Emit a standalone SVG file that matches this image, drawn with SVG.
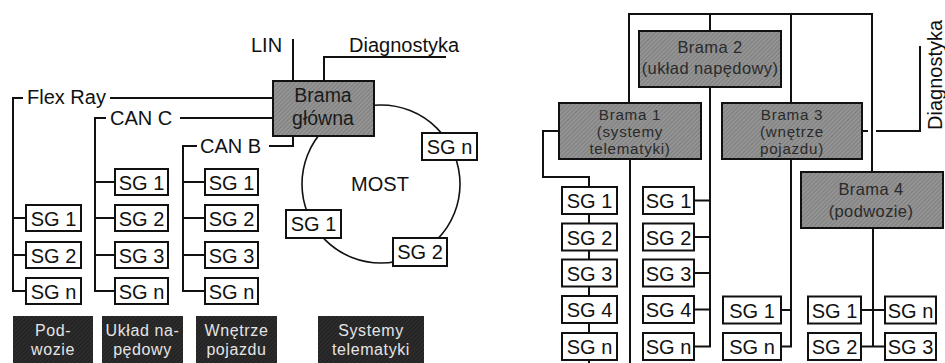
<svg xmlns="http://www.w3.org/2000/svg" width="945" height="363" viewBox="0 0 945 363">
<style>
text{font-family:"Liberation Sans",Arial,sans-serif;}
.ln{fill:none;stroke:#111;stroke-width:2;}
.ring{fill:none;stroke:#111;stroke-width:1.6;}
.sg{fill:#fff;stroke:#111;stroke-width:2;}
.sgt{font-size:20px;fill:#111;text-anchor:middle;}
.bus{font-size:20px;fill:#111;}
.gw{fill:url(#hatch);stroke:#111;stroke-width:2;}
.gwt{font-size:15.2px;letter-spacing:0.7px;fill:#2a2a2a;text-anchor:middle;}
.gw2{font-size:16.5px;letter-spacing:0.4px;fill:#2a2a2a;text-anchor:middle;}
.gwm{font-size:19.5px;fill:#1a1a1a;text-anchor:middle;}
.dk{fill:url(#dhatch);stroke:none;}
.dkt{font-size:16px;letter-spacing:0.6px;fill:#e4e4e4;text-anchor:middle;}
</style>
<defs>
<pattern id="hatch" patternUnits="userSpaceOnUse" width="3" height="3" patternTransform="rotate(45)">
<rect width="3" height="3" fill="#949494"/>
<line x1="0" y1="0" x2="0" y2="3" stroke="#686868" stroke-width="1"/>
</pattern>
<pattern id="dhatch" patternUnits="userSpaceOnUse" width="3" height="3" patternTransform="rotate(45)">
<rect width="3" height="3" fill="#2c2c2c"/>
<line x1="0" y1="0" x2="0" y2="3" stroke="#141414" stroke-width="1"/>
</pattern>
</defs>
<rect width="945" height="363" fill="#fff"/>

<g id="connectors">
<path class="ln" d="M23 98 H13 V291 H26 M13 218 H26 M13 255 H26"/>
<path class="ln" d="M110 98 H273"/>
<path class="ln" d="M106 118 H95 V291 H115 M95 182 H115 M95 218 H115 M95 255 H115"/>
<path class="ln" d="M180 118 H273"/>
<path class="ln" d="M197 146 H183 V291 H205 M183 182 H205 M183 218 H205 M183 255 H205"/>
<path class="ln" d="M269 146 H293 V136"/>
<path class="ln" d="M293 39 V81"/>
<path class="ln" d="M324 81 V57 H446"/>
<circle class="ring" cx="381" cy="184" r="79"/>
<path class="ln" d="M629 103 V14 H872 V172 M710 14 V31 M791 14 V103"/>
<path class="ln" d="M559 131 H543 V177 H589 V363"/>
<path class="ln" d="M630 159 V363"/>
<path class="ln" d="M710 87 V346.5 H694 M694 200.5 H710 M694 237 H710 M694 273 H710 M694 309.5 H710"/>
<path class="ln" d="M791 159 V346.5 H781 M781 310 H791"/>
<path class="ln" d="M873 228 V346.5 M861 310 H885 M861 346.5 H885"/>
<path class="ln" d="M862 131 H868 M876 131 H920 V46"/>
</g>

<g id="flex-ray-label"><text class="bus" x="27" y="104">Flex Ray</text></g>
<g id="can-c-label"><text class="bus" x="110" y="125">CAN C</text></g>
<g id="can-b-label"><text class="bus" x="200" y="153">CAN B</text></g>
<g id="lin-label"><text class="bus" x="251" y="52">LIN</text></g>
<g id="diag-label"><text class="bus" x="349" y="52">Diagnostyka</text></g>
<g id="most-label"><text class="bus" x="380" y="191" text-anchor="middle">MOST</text></g>
<g id="diag-label-2"><text class="bus" transform="translate(942,130) rotate(-90)">Diagnostyka</text></g>

<g id="brama-glowna">
<rect class="gw" x="273" y="81" width="101" height="55"/>
<text class="gwm" x="323" y="102">Brama</text>
<text class="gwm" x="323" y="125">główna</text>
</g>

<g id="fr-sg1"><rect class="sg" x="26" y="205" width="55" height="26"/><text class="sgt" x="53.5" y="226">SG 1</text></g>
<g id="fr-sg2"><rect class="sg" x="26" y="242" width="55" height="26"/><text class="sgt" x="53.5" y="263">SG 2</text></g>
<g id="fr-sgn"><rect class="sg" x="26" y="278" width="55" height="26"/><text class="sgt" x="53.5" y="299">SG n</text></g>

<g id="cc-sg1"><rect class="sg" x="115" y="169" width="53" height="26"/><text class="sgt" x="141.5" y="190">SG 1</text></g>
<g id="cc-sg2"><rect class="sg" x="115" y="205" width="53" height="26"/><text class="sgt" x="141.5" y="226">SG 2</text></g>
<g id="cc-sg3"><rect class="sg" x="115" y="242" width="53" height="26"/><text class="sgt" x="141.5" y="263">SG 3</text></g>
<g id="cc-sgn"><rect class="sg" x="115" y="278" width="53" height="26"/><text class="sgt" x="141.5" y="299">SG n</text></g>

<g id="cb-sg1"><rect class="sg" x="205" y="169" width="53" height="26"/><text class="sgt" x="231.5" y="190">SG 1</text></g>
<g id="cb-sg2"><rect class="sg" x="205" y="205" width="53" height="26"/><text class="sgt" x="231.5" y="226">SG 2</text></g>
<g id="cb-sg3"><rect class="sg" x="205" y="242" width="53" height="26"/><text class="sgt" x="231.5" y="263">SG 3</text></g>
<g id="cb-sgn"><rect class="sg" x="205" y="278" width="53" height="26"/><text class="sgt" x="231.5" y="299">SG n</text></g>

<g id="most-sgn"><rect class="sg" x="422" y="133" width="55" height="27"/><text class="sgt" x="449.5" y="154">SG n</text></g>
<g id="most-sg1"><rect class="sg" x="286" y="210" width="55" height="28"/><text class="sgt" x="313.5" y="231">SG 1</text></g>
<g id="most-sg2"><rect class="sg" x="393" y="238" width="54" height="28"/><text class="sgt" x="420" y="259">SG 2</text></g>

<g id="lbl-podwozie"><rect class="dk" x="13" y="316" width="80" height="54"/><text class="dkt" x="53" y="336">Pod-</text><text class="dkt" x="53" y="355">wozie</text></g>
<g id="lbl-naped"><rect class="dk" x="102" y="316" width="81" height="54"/><text class="dkt" x="142.5" y="336">Układ na-</text><text class="dkt" x="142.5" y="355">pędowy</text></g>
<g id="lbl-wnetrze"><rect class="dk" x="196" y="316" width="81" height="54"/><text class="dkt" x="236.5" y="336">Wnętrze</text><text class="dkt" x="236.5" y="355">pojazdu</text></g>
<g id="lbl-telematyka"><rect class="dk" x="318" y="316" width="106" height="54"/><text class="dkt" x="371" y="336">Systemy</text><text class="dkt" x="371" y="355">telematyki</text></g>

<g id="brama-2"><rect class="gw" x="639" y="31" width="142" height="56"/><text class="gw2" x="710" y="53">Brama 2</text><text class="gw2" x="710" y="74">(układ napędowy)</text></g>
<g id="brama-1"><rect class="gw" x="559" y="103" width="142" height="56"/><text class="gwt" x="630" y="120">Brama 1</text><text class="gwt" x="630" y="137">(systemy</text><text class="gwt" x="630" y="154">telematyki)</text></g>
<g id="brama-3"><rect class="gw" x="722" y="103" width="140" height="56"/><text class="gwt" x="792" y="120">Brama 3</text><text class="gwt" x="792" y="137">(wnętrze</text><text class="gwt" x="792" y="154">pojazdu)</text></g>
<g id="brama-4"><rect class="gw" x="801" y="172" width="142" height="56"/><text class="gw2" x="871" y="195">Brama 4</text><text class="gw2" x="871" y="217">(podwozie)</text></g>

<g id="b1-sg1"><rect class="sg" x="562" y="187" width="55" height="27"/><text class="sgt" x="589.5" y="208">SG 1</text></g>
<g id="b1-sg2"><rect class="sg" x="562" y="223.5" width="55" height="27"/><text class="sgt" x="589.5" y="244.5">SG 2</text></g>
<g id="b1-sg3"><rect class="sg" x="562" y="259.5" width="55" height="27"/><text class="sgt" x="589.5" y="280.5">SG 3</text></g>
<g id="b1-sg4"><rect class="sg" x="562" y="296" width="55" height="27"/><text class="sgt" x="589.5" y="317">SG 4</text></g>
<g id="b1-sgn"><rect class="sg" x="562" y="333" width="55" height="27"/><text class="sgt" x="589.5" y="354">SG n</text></g>

<g id="b2-sg1"><rect class="sg" x="643" y="187" width="51" height="27"/><text class="sgt" x="668.5" y="208">SG 1</text></g>
<g id="b2-sg2"><rect class="sg" x="643" y="223.5" width="51" height="27"/><text class="sgt" x="668.5" y="244.5">SG 2</text></g>
<g id="b2-sg3"><rect class="sg" x="643" y="259.5" width="51" height="27"/><text class="sgt" x="668.5" y="280.5">SG 3</text></g>
<g id="b2-sg4"><rect class="sg" x="643" y="296" width="51" height="27"/><text class="sgt" x="668.5" y="317">SG 4</text></g>
<g id="b2-sgn"><rect class="sg" x="643" y="333" width="51" height="27"/><text class="sgt" x="668.5" y="354">SG n</text></g>

<g id="b3-sg1"><rect class="sg" x="723" y="296.5" width="58" height="27"/><text class="sgt" x="752" y="317.5">SG 1</text></g>
<g id="b3-sgn"><rect class="sg" x="723" y="333" width="58" height="27"/><text class="sgt" x="752" y="354">SG n</text></g>

<g id="b4-sg1"><rect class="sg" x="808" y="296.5" width="53" height="27"/><text class="sgt" x="834.5" y="317.5">SG 1</text></g>
<g id="b4-sg2"><rect class="sg" x="808" y="333" width="53" height="27"/><text class="sgt" x="834.5" y="354">SG 2</text></g>
<g id="b4-sgn"><rect class="sg" x="885" y="296.5" width="51" height="27"/><text class="sgt" x="910.5" y="317.5">SG n</text></g>
<g id="b4-sg3"><rect class="sg" x="885" y="333" width="51" height="27"/><text class="sgt" x="910.5" y="354">SG 3</text></g>
</svg>
